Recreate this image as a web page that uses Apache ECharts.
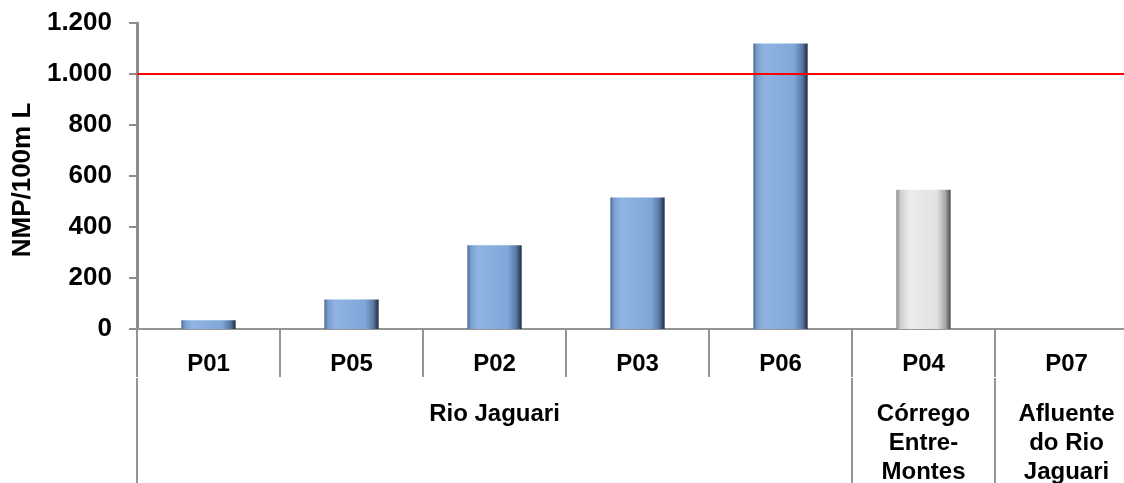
<!DOCTYPE html>
<html>
<head>
<meta charset="utf-8">
<script src="https://cdn.jsdelivr.net/npm/echarts@6/dist/echarts.min.js"></script>
<style>
html,body{margin:0;padding:0;background:#fff;overflow:hidden;}
#c{width:1124px;height:483px;}
</style>
</head>
<body>
<div id="c"></div>
<script>
// ---- data ----
const categories = ['P01', 'P05', 'P02', 'P03', 'P06', 'P04', 'P07'];
const groups = ['Rio Jaguari', 'Rio Jaguari', 'Rio Jaguari', 'Rio Jaguari', 'Rio Jaguari', 'Córrego Entre-Montes', 'Afluente do Rio Jaguari'];
const groupLabels = ['', '', 'Rio Jaguari', '', '', 'Córrego\nEntre-\nMontes', 'Afluente\ndo Rio\nJaguari'];
const values = [34, 116, 328, 516, 1120, 546, 0];
const limitValue = 1000;
const yTicks = [0, 200, 400, 600, 800, 1000, 1200];
const yAxisName = 'NMP/100m L';

// ---- styles ----
const FONT = 'Liberation Sans, Arial, sans-serif';
const blueGrad = new echarts.graphic.LinearGradient(0, 0, 1, 0, [
  {offset: 0, color: '#4d6b94'},
  {offset: 0.07, color: '#7a9fce'},
  {offset: 0.2, color: '#90b4e2'},
  {offset: 0.75, color: '#7ea7d8'},
  {offset: 0.9, color: '#5a79a4'},
  {offset: 1, color: '#1e2b40'}
]);
const greyGrad = new echarts.graphic.LinearGradient(0, 0, 1, 0, [
  {offset: 0, color: '#8a8a8a'},
  {offset: 0.08, color: '#cfcfcf'},
  {offset: 0.25, color: '#ececec'},
  {offset: 0.75, color: '#e2e2e2'},
  {offset: 0.9, color: '#a8a8a8'},
  {offset: 1, color: '#4a4a4a'}
]);

const barData = values.map((v, i) => ({
  value: v,
  itemStyle: {color: groups[i] === 'Rio Jaguari' ? blueGrad : greyGrad}
}));

function fmt(v) {
  return String(v).replace(/\B(?=(\d{3})+(?!\d))/g, '.');
}

const chart = echarts.init(document.getElementById('c'), null, {renderer: 'canvas'});
chart.setOption({
  animation: false,
  backgroundColor: '#ffffff',
  grid: {left: 137, width: 1001, top: 23, bottom: 154, containLabel: false, outerBoundsMode: 'none'},
  xAxis: [
    {
      type: 'category',
      data: categories,
      position: 'bottom',
      axisLine: {show: true, lineStyle: {color: '#959595', width: 2}},
      axisTick: {show: true, alignWithLabel: false, length: 48, lineStyle: {color: '#959595', width: 2}},
      axisLabel: {margin: 23, fontSize: 24, fontWeight: 'bold', color: '#000', fontFamily: FONT}
    },
    {
      type: 'category',
      data: groupLabels,
      position: 'bottom',
      offset: 49,
      axisLine: {show: false},
      axisTick: {
        show: true, alignWithLabel: false, length: 110,
        interval: function (i) { return i === 0 || i === 5 || i === 6; },
        lineStyle: {color: '#959595', width: 2}
      },
      axisLabel: {interval: 0, margin: 22, fontSize: 24, lineHeight: 29, fontWeight: 'bold', color: '#000', fontFamily: FONT}
    }
  ],
  yAxis: {
    type: 'value',
    min: yTicks[0],
    max: yTicks[yTicks.length - 1],
    interval: yTicks[1] - yTicks[0],
    name: yAxisName,
    nameLocation: 'middle',
    nameGap: 100,
    nameTextStyle: {fontSize: 26, fontWeight: 'bold', color: '#000', fontFamily: FONT, padding: [0, 0, 0, -8]},
    axisLine: {show: true, lineStyle: {color: '#8c8c8c', width: 3}},
    axisTick: {show: true, length: 8, lineStyle: {color: '#8c8c8c', width: 2}},
    splitLine: {show: false},
    axisLabel: {margin: 25, fontSize: 26, fontWeight: 'bold', color: '#000', fontFamily: FONT, formatter: fmt}
  },
  series: [{
    type: 'bar',
    xAxisIndex: 0,
    data: barData,
    barWidth: '38%',
    markLine: {
      silent: true,
      symbol: 'none',
      label: {show: false},
      lineStyle: {color: '#ff0000', width: 2, type: 'solid'},
      data: [{yAxis: limitValue}]
    }
  }]
});
</script>
</body>
</html>
